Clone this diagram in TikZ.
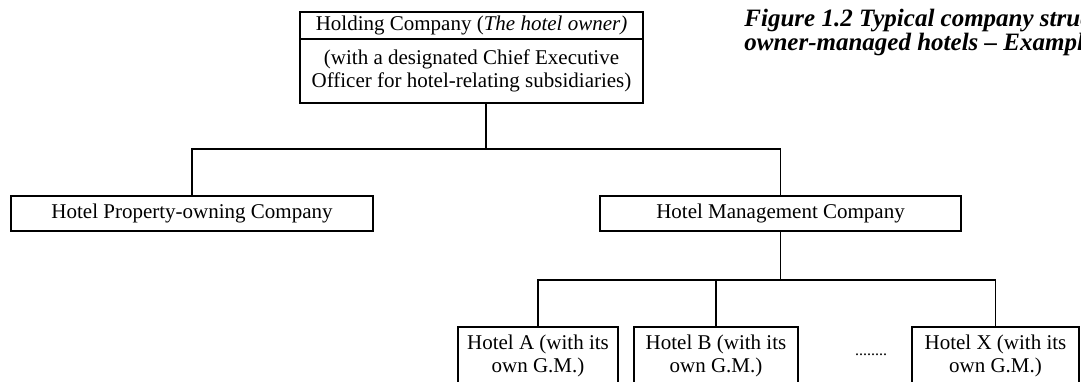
\documentclass[tikz,border=0pt]{standalone}
\usepackage{fontspec}
\setmainfont{Liberation Serif}
\begin{document}
\begin{tikzpicture}[x=0.5pt,y=-0.5pt,
  box/.style={draw,line width=0.7pt,inner sep=0pt,align=center,
    font=\fontsize{10.5}{11.8}\selectfont},
  link/.style={line width=0.8pt},
  caption/.style={anchor=base west,inner sep=0pt,
    font=\fontsize{12.5}{13}\selectfont\bfseries\itshape}]
\useasboundingbox (0,0) rectangle (1081,381);
\begin{scope}
\clip (0,0) rectangle (1081,381);

% holding company, drawn as two stacked cells
\node[box,minimum width=171.5pt,minimum height=13.5pt] (hold1) at (471.5,25.5)
  {Holding Company (\textit{The hotel owner)}};
\node[box,minimum width=171.5pt,minimum height=32pt] (hold2) at (471.5,71)
  {(with a designated Chief Executive\\Officer for hotel-relating subsidiaries)};

% subsidiaries
\node[box,minimum width=181pt,minimum height=17.5pt] (prop) at (192,213.5)
  {Hotel Property-owning Company};
\node[box,minimum width=180.5pt,minimum height=17.5pt] (mgmt) at (780.5,213.5)
  {Hotel Management Company};

% hotels run by the management company
\node[box,minimum width=80pt,minimum height=29pt] (hA) at (538,356)
  {Hotel A (with its\\own G.M.)};
\node[box,minimum width=82pt,minimum height=29pt] (hB) at (716,356)
  {Hotel B (with its\\own G.M.)};
\node[inner sep=0pt,font=\fontsize{8}{9}\selectfont] (dots) at (871,355) {........};
\node[box,minimum width=83.5pt,minimum height=29pt] (hX) at (995.5,356)
  {Hotel X (with its\\own G.M.)};

% caption, running past the right edge
\node[caption] (cap1) at (744,26) {Figure 1.2 Typical company structure of};
\node[caption] (cap2) at (744,50) {owner-managed hotels -- Example};

% connectors
\coordinate (topbus) at (486,149);
\draw[link] (hold2.south -| topbus) -- (topbus);
\draw[link] (prop.north) |- (topbus) -| (mgmt.north);
\draw[link] (mgmt.south) -- ++(0,48) coordinate (hotelbus);
\draw[link] (hA.north) |- (hotelbus) -| (hX.north);
\draw[link] (hB.north) -- (hB.north |- hotelbus);
\end{scope}
\end{tikzpicture}
\end{document}
